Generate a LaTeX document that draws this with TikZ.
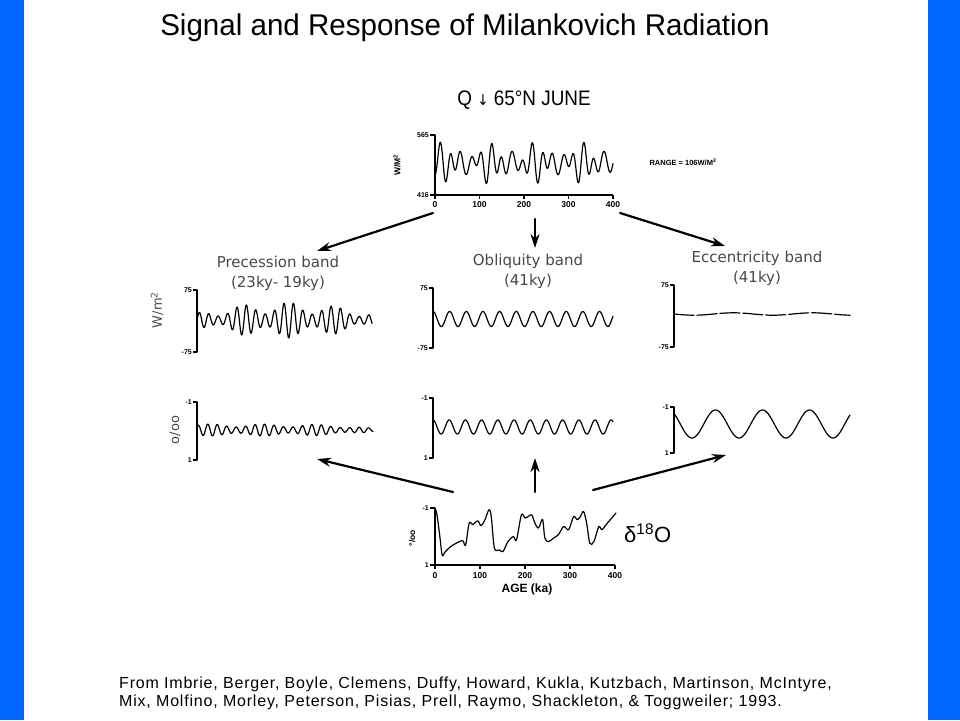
\documentclass[tikz,border=0pt]{standalone}
\usepackage{fontspec}
\setmainfont{Liberation Sans}
\newfontfamily\bandfont{DejaVu Sans}
\newfontfamily\capfont[LetterSpace=5]{Liberation Sans}
\usetikzlibrary{arrows.meta}
\definecolor{slideblue}{RGB}{0,102,255}
\definecolor{bandgray}{RGB}{72,72,72}
\tikzset{
  axisline/.style={line width=1.5pt,line cap=butt},
  curve/.style={line width=1.2pt,line join=round,smooth,samples=400},
  bigarrow/.style={line width=2.2pt,-{Stealth[length=14pt,width=9pt]}},
  ticklab/.style={font=\fontsize{7}{8}\selectfont\bfseries,inner sep=1pt},
  xlab/.style={font=\fontsize{8.5}{9}\selectfont\bfseries,inner sep=1pt},
  bandlab/.style={font=\bandfont\fontsize{15}{20}\selectfont,text=bandgray,align=center},
  unitlab/.style={font=\bandfont\fontsize{13}{14}\selectfont,text=bandgray,rotate=90},
  captext/.style={anchor=base west,inner sep=0pt,font=\capfont\fontsize{16}{18}\selectfont},
}
\begin{document}
\begin{tikzpicture}[x=1pt,y=-1pt,line cap=round,line join=round]
	\useasboundingbox (0,0) rectangle (960,720);
	\fill[slideblue] (0,0) rectangle (24,720);
	\fill[slideblue] (928,0) rectangle (960,720);
	% title and caption
	\node[anchor=base,xscale=0.985] (title) at (465,35) {\fontsize{30}{32}\selectfont Signal and Response of Milankovich Radiation};
	\node[captext] (cap1) at (119,688.5) {From Imbrie, Berger, Boyle, Clemens, Duffy, Howard, Kukla, Kutzbach, Martinson, McIntyre,};
	\node[captext] (cap2) at (119,706.5) {Mix, Molfino, Morley, Peterson, Pisias, Prell, Raymo, Shackleton, \& Toggweiler; 1993.};
	% insolation signal
	\node[anchor=base,xscale=0.9] (qlab) at (524,105) {\fontsize{21}{22}\selectfont Q {\bandfont\fontsize{15}{15}\selectfont↓} 65°N JUNE};
	\draw[axisline] (430,135) -- (435,135) -- (435,195) -- (613,195);
	\draw[axisline] (430,195) -- (435,195);
	\foreach \k/\lab in {0/0,1/100,2/200,3/300,4/400} {
		\draw[axisline] ({435+44.5*\k},195) -- ({435+44.5*\k},199);
		\node[xlab] (qt\k) at ({435+44.5*\k},205) {\lab};
	}
	\node[ticklab,anchor=east] (qmax) at (430,135) {565};
	\node[ticklab,anchor=east] (qmin) at (430,195) {416};
	\node[xlab,rotate=90] (qunit) at (397,165) {W/M\textsuperscript{2}};
	\node[xlab,font=\fontsize{7.5}{8}\selectfont\bfseries] (range) at (683,162) {RANGE = 106W/M\textsuperscript{2}};
	\draw[curve,domain=0:400] plot({435+0.445*\x},{163-22*(0.28*sin(8.78*\x)+0.72*(0.35+0.65*(0.5+0.5*cos(3.5*(\x-125))))*sin(15.65*\x-98))});
	% band labels
	\node[bandlab] (prec) at (278,273) {Precession band\\(23ky- 19ky)};
	\node[bandlab] (obl) at (528,271) {Obliquity band\\(41ky)};
	\node[bandlab] (ecc) at (757,268) {Eccentricity band\\(41ky)};
	% insolation bands
	\node[unitlab] (wm) at (157,310) {W/m\textsuperscript{2}};
	\foreach \ax/\top/\bot/\nm in {197/290/352/pa,433/288/348/oa,674/285/347/ea} {
		\draw[axisline] (\ax-4,\top) -- (\ax,\top) -- (\ax,\bot) -- (\ax-4,\bot);
		\node[ticklab,anchor=east] (\nm t) at (\ax-4,\top) {75};
		\node[ticklab,anchor=east] (\nm b) at (\ax-4,\bot) {-75};
	}
	\draw[curve,domain=0:400] plot({197+0.4375*\x},{320-18*(0.35+0.65*(0.5+0.5*cos(3.43*(\x-105))))*(0.3+0.7*sin(0.409*(\x+20)))*sin(16.74*\x)});
	\draw[curve,domain=0:400] plot({433+0.45*\x},{319-7.5*cos(9.73*\x)});
	\draw[curve,dash pattern=on 20pt off 3pt,domain=0:400] plot({674+0.44*\x},{314+1.2*sin(2*\x)});
	% delta 18O bands
	\node[unitlab] (oo) at (175,430) {o/oo};
	\foreach \ax/\top/\bot/\nm in {197/402/460/pd,433/398/458/od,674/407/453/ed} {
		\draw[axisline] (\ax-4,\top) -- (\ax,\top) -- (\ax,\bot) -- (\ax-4,\bot);
		\node[ticklab,anchor=east] (\nm t) at (\ax-4,\top) {-1};
		\node[ticklab,anchor=east] (\nm b) at (\ax-4,\bot) {1};
	}
	\draw[curve,domain=0:400] plot({197+0.44*\x},{430-6*(0.75+0.25*cos(3*(\x-150)))*(1-0.75*(\x/400)^6)*sin(16.74*\x+40)});
	\draw[curve,domain=0:400] plot({433+0.45*\x},{427-7*cos(10*\x)});
	\draw[curve,domain=0:400] plot({674+0.44*\x},{424+14*sin(3.37*\x-48)});
	% delta 18O record
	\draw[axisline] (430,508) -- (435,508) -- (435,565) -- (615,565);
	\draw[axisline] (430,565) -- (435,565);
	\foreach \k/\lab in {0/0,1/100,2/200,3/300,4/400} {
		\draw[axisline] ({435+45*\k},565) -- ({435+45*\k},569);
		\node[xlab] (dt\k) at ({435+45*\k},576) {\lab};
	}
	\node[ticklab,anchor=east] (dmax) at (430,508) {-1};
	\node[ticklab,anchor=east] (dmin) at (430,565) {1};
	\node[xlab,rotate=90] (dunit) at (412,538) {°/oo};
	\node[font=\fontsize{12}{13}\selectfont\bfseries] (age) at (527,589) {AGE (ka)};
	\node[anchor=west,inner sep=0pt] (d18o) at (624,533) {\fontsize{22}{24}\selectfont δ\textsuperscript{18}O};
	\begin{scope}[shift={(435,536.5)},x=0.45pt,y=-28.5pt]
		\draw[curve,tension=0.5] plot coordinates {(0,-0.98) (4,-0.8) (10,-0.1) (16,0.65) (22,0.55) (35,0.35) (54,0.18) (62,0.15) (68,0.3) (76,-0.47) (84,-0.42) (95,-0.55) (102,-0.38) (110,-0.55) (120,-0.94) (125,-0.7) (132,0.41) (143,0.47) (151,0.53) (162,0.18) (174,0.0) (181,0.12) (192,-0.76) (200,-0.65) (207,-0.7) (215,-0.76) (222,-0.47) (230,-0.3) (239,-0.6) (244,0.05) (252,0.18) (263,0.06) (274,-0.06) (286,-0.35) (297,-0.24) (308,-0.7) (316,-0.59) (323,-0.7) (330,-0.88) (337,-0.47) (344,0.24) (353,0.18) (364,-0.35) (371,-0.24) (383,-0.47) (402,-0.82)};
	\end{scope}
	% arrows
	\coordinate (qL) at (433,213);
	\coordinate (qM) at (535,219);
	\coordinate (qR) at (620,213);
	\coordinate (precIn) at (317,251);
	\coordinate (oblIn) at (535,248);
	\coordinate (eccIn) at (725,246);
	\coordinate (dL) at (453,492);
	\coordinate (dM) at (535,492);
	\coordinate (dR) at (593,490);
	\coordinate (precOut) at (317,459);
	\coordinate (oblOut) at (535,458);
	\coordinate (eccOut) at (726,455);
	\draw[bigarrow] (qL) -- (precIn);
	\draw[bigarrow] (qM) -- (oblIn);
	\draw[bigarrow] (qR) -- (eccIn);
	\draw[bigarrow] (dL) -- (precOut);
	\draw[bigarrow] (dM) -- (oblOut);
	\draw[bigarrow] (dR) -- (eccOut);
\end{tikzpicture}
\end{document}
